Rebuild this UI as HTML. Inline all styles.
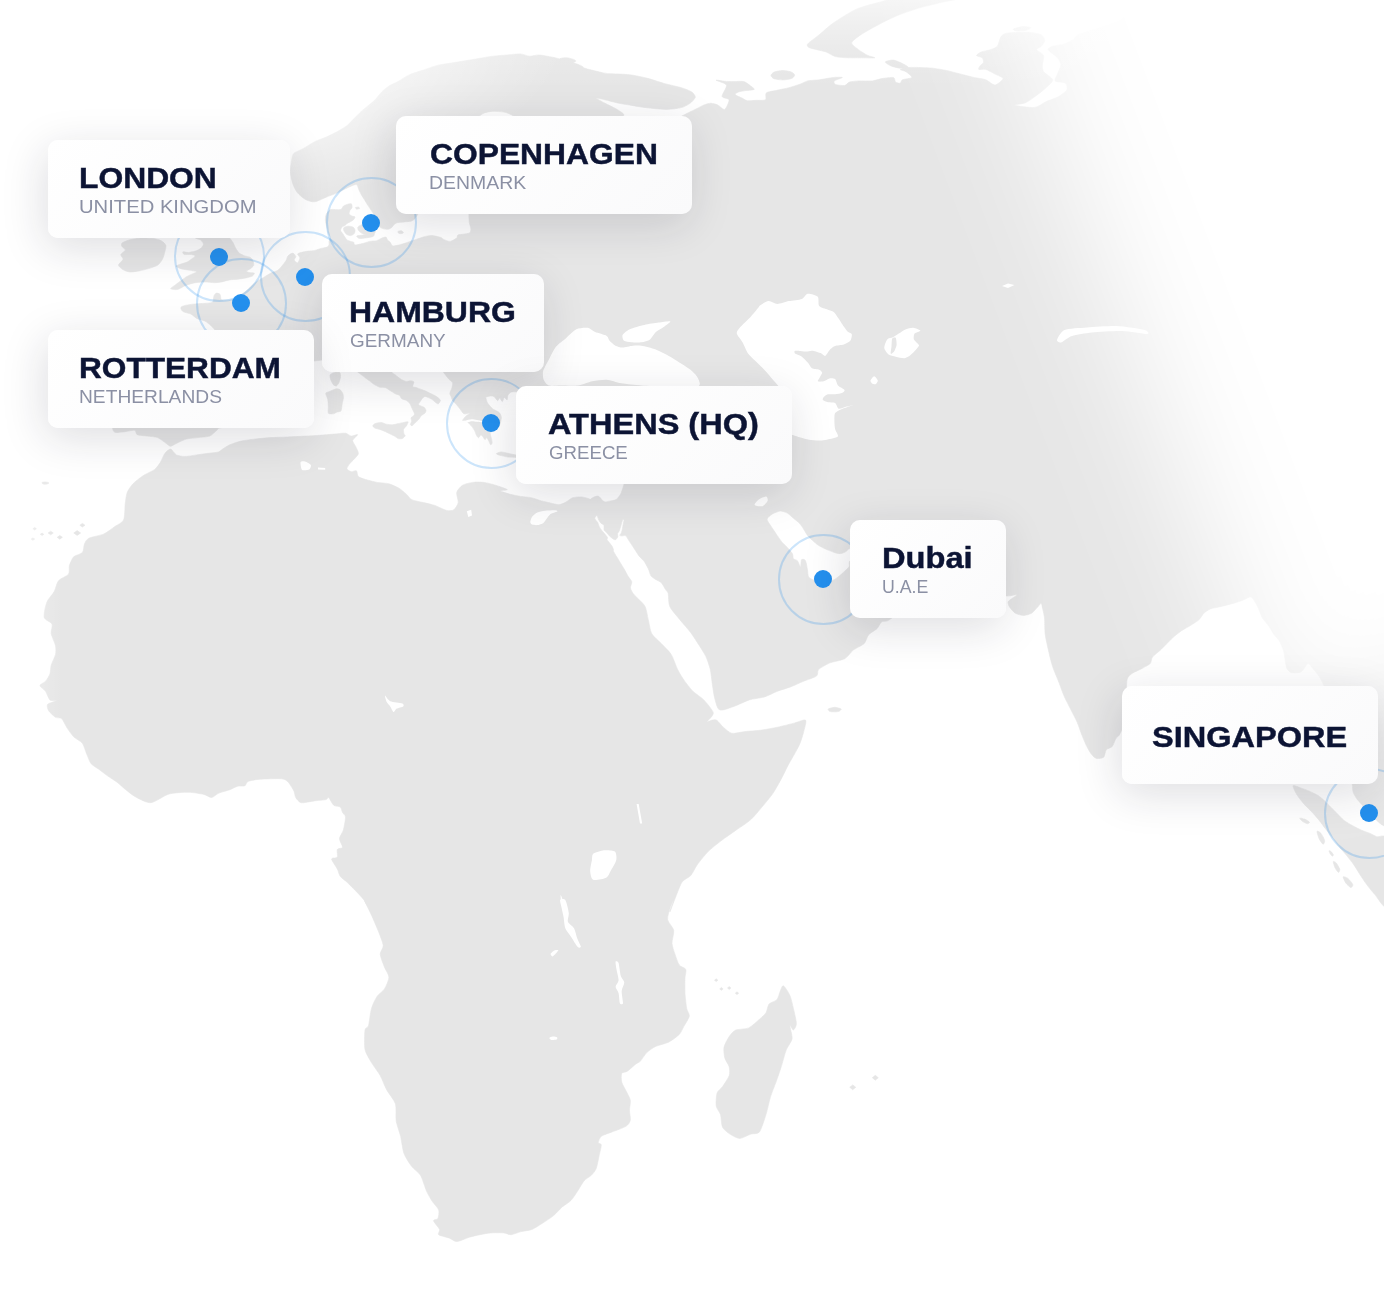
<!DOCTYPE html>
<html><head><meta charset="utf-8">
<style>
html,body{margin:0;padding:0;background:#fff;}
body{width:1384px;height:1292px;overflow:hidden;}
#wrap{width:1384px;height:1292px;position:relative;overflow:hidden;background:#fff;font-family:"Liberation Sans",sans-serif;}
#map{position:absolute;left:0;top:0;}
.fade{position:absolute;left:0;top:0;width:1384px;height:1292px;pointer-events:none;}
#fr{left:1283px;top:-1249px;width:1400px;height:2000px;background:#fff;transform-origin:0 100%;transform:rotate(-20.8deg);filter:blur(60px);}
#ft{background:linear-gradient(to bottom,rgba(255,255,255,.62) 0,rgba(255,255,255,.38) 25px,rgba(255,255,255,.14) 55px,rgba(255,255,255,0) 88px);}
#fl{background:linear-gradient(to right,rgba(255,255,255,1) 0,rgba(255,255,255,.55) 18px,rgba(255,255,255,.18) 40px,rgba(255,255,255,0) 62px);}
#ftl{background:radial-gradient(ellipse 420px 190px at 150px 25px,rgba(255,255,255,.95) 0,rgba(255,255,255,.8) 40%,rgba(255,255,255,.5) 68%,rgba(255,255,255,.2) 86%,rgba(255,255,255,0) 100%);}
.ring{position:absolute;width:91px;height:91px;border:2px solid rgba(36,144,238,.23);border-radius:50%;box-sizing:border-box;}
.dot{position:absolute;width:18px;height:18px;border-radius:50%;background:#2490ee;}
.card{position:absolute;height:97.5px;background:linear-gradient(135deg,#ffffff 0%,#fafafb 100%);border-radius:10px;box-shadow:-3px 10px 44px rgba(25,25,45,.145);}
.t{-webkit-text-stroke:.45px #0c1434;position:absolute;left:0;top:0;white-space:nowrap;font-weight:700;color:#0c1434;font-size:30px;line-height:30px;transform-origin:0 0;display:inline-block;}
.s{position:absolute;left:0;top:0;white-space:nowrap;font-weight:400;color:#8b90a4;font-size:19.5px;line-height:20px;transform-origin:0 0;display:inline-block;}
</style></head><body><div id="wrap">
<svg id="map" width="1384" height="1292" viewBox="0 0 1384 1292">
<path d="M170.6 449.1C172.0 449.3 174.6 454.0 176.4 454.9C178.2 455.8 182.5 456.4 185 456.4C187.5 456.4 193.9 455.3 196.6 454.9C199.3 454.5 204.0 453.9 206.7 453.5C209.4 453.1 216.3 452.6 218.3 452C220.3 451.4 221.2 450.0 222.6 449.1C224.0 448.2 227.5 445.8 229.8 444.8C232.2 443.8 238.2 441.7 241.4 441C244.7 440.3 252.2 439.4 255.8 439C259.4 438.6 266.3 437.9 270.3 437.6C274.3 437.4 283.3 437.2 287.6 437C291.9 436.8 301.0 436.3 305 436.1C309.0 435.9 315.8 435.6 319.4 435.3C323.0 435.1 330.6 434.4 333.9 434.1C337.1 433.8 343.2 432.9 345.4 433.2C347.6 433.4 349.7 435.9 351.2 436.1C352.7 436.3 357.4 434.1 357.6 434.7C357.8 435.2 353.0 439.1 352.7 440.5C352.4 441.9 354.8 444.6 355.5 446.2C356.2 447.8 358.6 451.9 358.4 453.5C358.2 455.1 355.2 457.9 354.1 459.2C353.0 460.5 350.7 462.4 349.8 463.6C348.9 464.8 346.7 467.8 346.9 468.8C347.1 469.8 350.0 471.4 351.2 471.7C352.4 471.9 355.5 470.2 356.4 470.8C357.3 471.4 357.2 475.5 358.4 476.6C359.6 477.7 363.3 478.8 365.7 479.5C368.1 480.2 374.3 481.9 377.2 482.4C380.1 482.9 386.1 483.1 388.8 483.8C391.5 484.5 396.7 486.9 398.9 488.2C401.1 489.5 404.5 492.5 406.1 493.9C407.7 495.3 409.7 498.6 411.9 499.7C414.1 500.8 420.6 501.9 423.5 502.6C426.4 503.3 432.1 504.5 435 505.5C437.9 506.5 444.2 509.9 446.6 510.4C449.0 510.9 452.4 510.8 453.8 509.8C455.2 508.8 457.8 504.8 458.2 502.6C458.6 500.4 456.2 494.7 456.7 492.5C457.2 490.3 460.5 486.6 462.5 485.3C464.5 484.0 469.9 482.8 472.6 482.4C475.3 482.0 481.3 482.0 484.2 482.4C487.1 482.8 492.8 484.4 495.7 485.3C498.6 486.2 506.8 488.9 507.3 489.6C507.8 490.3 499.6 490.2 500 490.8C500.4 491.4 507.8 493.6 510.4 494.3C513.0 495.0 518.2 496.0 520.8 496.4C523.4 496.8 528.6 497.1 531.2 497.7C533.8 498.3 539.2 500.2 541.6 500.9C544.0 501.5 548.1 502.4 550.3 502.9C552.5 503.4 557.0 504.8 559 504.7C561.0 504.6 564.2 503.0 565.9 502.1C567.6 501.2 570.8 498.4 572.8 497.7C574.8 497.0 579.5 496.8 581.5 496.9C583.5 497.0 586.9 498.1 588.4 498.6C589.9 499.1 592.1 500.8 593.6 501.2C595.1 501.6 599.3 502.0 600.6 502.1C601.9 502.2 604.3 500.5 604 501.7C603.7 502.9 598.9 509.8 598 511.5C597.1 513.2 597.1 514.3 596.7 515.2C596.3 516.1 594.7 517.5 594.8 518.4C594.9 519.3 597.0 521.3 597.6 522.3C598.2 523.3 598.8 525.7 599.3 526.7C599.8 527.7 601.2 529.7 601.9 530.6C602.5 531.5 603.8 532.7 604.5 533.6C605.2 534.5 607.2 536.7 607.5 537.5C607.8 538.3 606.8 539.0 607.1 539.7C607.4 540.4 609.1 542.2 609.7 543.1C610.4 544.0 611.8 545.7 612.3 546.6C612.8 547.5 613.4 549.4 613.6 550C613.8 550.6 613.0 550.2 613.6 551.5C614.2 552.8 617.5 558.0 618.8 560.2C620.1 562.4 622.8 566.8 624 568.8C625.2 570.8 627.3 575.0 628.3 576.6C629.3 578.2 631.5 580.4 631.8 581.8C632.1 583.2 630.2 586.4 630.4 587.9C630.6 589.4 632.5 592.6 633.5 594C634.5 595.4 637.2 597.6 638.7 599.2C640.2 600.8 644.0 604.1 645.2 606.7C646.4 609.3 647.5 616.3 648.3 619.7C649.1 623.1 650.1 630.6 651.7 633.6C653.3 636.6 658.9 641.0 661.3 643.6C663.7 646.2 669.2 651.1 671.2 654.4C673.2 657.6 676.1 666.4 677.7 669.6C679.3 672.9 682.3 677.7 684.2 680.4C686.1 683.1 690.5 688.8 692.9 691.2C695.3 693.6 701.2 697.2 703.8 699.9C706.3 702.6 712.9 710.2 713.3 712.9C713.7 715.6 707.4 720.7 707.2 721.6C707.0 722.5 710.4 720.5 711.6 720.3C712.8 720.1 715.3 719.4 716.8 720.3C718.3 721.2 721.4 725.6 723.3 727.2C725.2 728.8 729.2 732.8 731.9 733.3C734.6 733.8 741.4 732.0 744.9 731.6C748.4 731.2 756.0 730.8 760.1 730.3C764.2 729.8 773.2 728.1 777.5 727.2C781.8 726.3 791.3 723.8 794.8 722.9C798.3 722.0 804.5 719.1 805.6 720.3C806.7 721.5 804.3 729.3 803.5 732.4C802.7 735.5 801.0 741.3 799.1 745.4C797.2 749.5 790.5 760.8 788.3 764.9C786.1 769.0 783.7 774.4 781.8 777.9C779.9 781.4 775.3 789.8 773.1 793.1C770.9 796.4 767.2 800.8 764.5 804C761.8 807.2 754.9 815.9 751.4 819.1C747.9 822.4 740.1 827.3 736.3 830C732.5 832.7 724.6 838.1 721.1 840.8C717.6 843.5 711.1 848.6 708.1 851.6C705.1 854.6 699.5 861.7 697.3 864.7C695.1 867.7 692.7 873.3 690.8 875.5C688.9 877.7 684.0 879.3 682.1 882C680.2 884.7 677.1 893.5 675.6 897.2C674.1 900.9 670.1 911.5 669.9 911.9C669.7 912.2 673.6 900.7 673.7 900C673.8 899.3 671.5 904.1 670.7 906.5C669.9 908.9 667.2 916.5 667.6 919.5C668.0 922.5 673.2 927.3 673.7 930.3C674.2 933.3 671.8 940.4 672 943.4C672.2 946.4 674.1 951.5 675 954.2C675.9 956.9 677.9 963.1 679.3 965C680.6 966.9 685.1 967.8 685.8 969.4C686.5 971.0 685.1 975.0 685 978C684.9 981.0 684.8 989.4 685 993.2C685.2 997.0 686.2 1005.5 686.7 1008.4C687.2 1011.3 689.7 1013.9 689.3 1016.2C688.9 1018.5 685.0 1024.3 683.7 1026.6C682.5 1028.9 681.2 1032.5 679.3 1034.4C677.4 1036.4 671.5 1040.7 668.5 1042.2C665.5 1043.7 658.2 1045.2 655.5 1046.5C652.8 1047.8 648.7 1050.8 646.8 1052.6C644.9 1054.4 641.6 1059.9 640.3 1061.3C638.9 1062.7 637.6 1062.7 636 1063.9C634.4 1065.1 629.1 1070.0 627.3 1071.2C625.5 1072.4 622.4 1072.0 621.7 1073.4C621.0 1074.8 621.2 1079.9 621.7 1082.1C622.2 1084.3 624.9 1088.5 626 1090.8C627.1 1093.1 629.9 1097.9 630.3 1100.3C630.7 1102.7 629.5 1107.8 629.5 1110.3C629.5 1112.8 630.7 1118.2 630.3 1120.2C629.9 1122.2 628.3 1124.8 626 1126.3C623.7 1127.8 615.2 1130.7 612.1 1131.9C609.0 1133.2 603.0 1134.9 601.3 1136.3C599.6 1137.7 598.3 1141.7 598.3 1142.8C598.3 1143.9 601.2 1143.3 601.3 1144.9C601.4 1146.5 599.8 1152.8 599.1 1155.8C598.5 1158.8 597.1 1166.4 596.1 1168.8C595.1 1171.2 592.8 1173.8 591.3 1175.3C589.8 1176.8 585.7 1178.9 584 1180.9C582.3 1182.9 579.1 1188.9 577.5 1191.3C575.9 1193.7 572.9 1198.5 571 1200.4C569.1 1202.4 564.5 1205.0 562.3 1206.9C560.1 1208.8 556.0 1213.6 553.6 1215.6C551.2 1217.6 545.5 1221.3 542.8 1223C540.1 1224.7 534.6 1228.4 531.9 1229.5C529.2 1230.6 523.7 1230.9 521.1 1231.6C518.5 1232.2 513.3 1234.5 511.1 1234.7C508.9 1234.9 506.3 1233.1 503.8 1232.9C501.3 1232.7 493.8 1232.7 490.8 1232.9C487.8 1233.1 482.6 1234.2 479.9 1234.7C477.2 1235.2 472.0 1236.4 469.1 1237.3C466.2 1238.2 459.3 1241.5 456.9 1241.6C454.5 1241.7 451.9 1239.1 449.6 1238.2C447.3 1237.3 439.9 1235.8 438.7 1234.7C437.4 1233.6 440.2 1231.2 439.6 1229.5C439.0 1227.8 433.7 1222.2 433.5 1220.8C433.3 1219.4 437.2 1219.9 437.9 1218.6C438.5 1217.2 439.4 1212.2 438.7 1210C438.0 1207.8 433.7 1203.6 432.2 1201.3C430.7 1199.0 428.1 1194.5 426.6 1191.3C425.1 1188.0 422.4 1178.4 420.5 1175.3C418.6 1172.2 413.9 1169.3 411.8 1166.6C409.7 1163.9 405.4 1157.4 404 1153.6C402.6 1149.8 401.6 1140.4 400.6 1136.3C399.6 1132.2 396.9 1125.2 396.2 1121.1C395.5 1117.0 396.6 1107.7 395.4 1103.8C394.2 1099.9 388.6 1093.4 386.7 1089.9C384.8 1086.4 382.1 1079.0 380.2 1075.6C378.3 1072.2 373.4 1065.8 371.5 1062.6C369.6 1059.3 365.8 1053.7 365 1049.6C364.2 1045.5 364.6 1033.1 365 1030.1C365.4 1027.1 367.7 1028.4 368.5 1025.7C369.3 1023.0 370.4 1012.1 371.5 1008.4C372.6 1004.7 375.6 998.6 377.2 996.2C378.8 993.8 383.0 991.3 384.5 988.9C386.0 986.5 388.9 979.9 388.9 977.2C388.9 974.5 385.6 970.1 384.5 967.2C383.4 964.3 380.4 956.9 380.2 954.2C380.0 951.5 383.5 948.5 383.2 945.5C382.9 942.5 379.5 934.1 378 930.3C376.5 926.5 373.2 919.0 371.5 915.2C369.8 911.4 364.3 900.4 364.2 900C364.1 899.6 370.7 911.9 370.7 911.9C370.7 911.9 366.1 902.9 364.2 900.2C362.3 897.6 357.7 893.0 355.5 890.7C353.3 888.4 348.7 883.8 346.8 882C344.9 880.2 341.5 878.0 340.3 876.4C339.1 874.8 338.4 871.2 337.3 869C336.2 866.8 331.6 860.5 331.6 859C331.6 857.5 336.6 858.5 337.3 857.3C338.0 856.1 336.7 850.8 337.3 849.5C337.9 848.2 342.2 848.7 342.5 847.3C342.8 845.9 339.4 840.8 339.5 838.6C339.6 836.4 342.6 832.7 343.4 830C344.1 827.3 345.6 819.2 345.5 817C345.4 814.8 343.1 813.9 342.5 812.6C341.9 811.4 341.4 807.9 340.3 807C339.2 806.1 335.3 806.5 333.8 805.3C332.3 804.1 329.6 798.2 328.6 797.5C327.6 796.8 327.8 799.2 326 799.6C324.2 800.0 317.4 800.5 314.3 800.9C311.2 801.3 303.6 803.1 301.3 802.7C299.0 802.3 296.6 799.0 295.7 797.5C294.8 796.0 294.8 792.9 293.9 791C293.0 789.1 289.8 783.8 288.3 782.3C286.8 780.8 285.3 779.2 281.8 778.8C278.3 778.4 264.3 778.9 260.1 779.2C255.9 779.5 249.9 780.6 248 781.4C246.1 782.2 246.2 785.2 244.9 785.8C243.6 786.4 239.5 785.7 237.6 786.2C235.7 786.7 232.1 788.8 229.8 789.7C227.5 790.6 221.2 792.1 218.9 793.1C216.6 794.1 213.5 797.3 211.6 797.5C209.7 797.7 206.7 795.0 203.8 794.4C200.9 793.8 192.9 792.3 188.6 792.3C184.3 792.2 173.8 792.7 169.1 794C164.4 795.3 155.0 802.3 150.9 802.7C146.8 803.1 139.8 799.1 136.6 797.5C133.4 795.9 128.1 791.6 125.7 789.7C123.3 787.8 119.4 784.0 117.1 782.3C114.8 780.6 109.8 777.4 107.5 775.8C105.2 774.2 100.9 770.8 98.8 769.3C96.7 767.8 92.5 765.5 91 763.6C89.5 761.7 87.8 756.6 86.7 754.1C85.6 751.6 84.0 745.5 82.4 743.3C80.8 741.1 75.6 738.7 73.7 736.8C71.8 734.9 68.7 730.4 67.2 728.1C65.7 725.8 63.1 720.0 61.6 718.6C60.1 717.2 57.1 718.3 55.5 717.3C53.9 716.3 49.6 712.4 48.6 710.8C47.6 709.2 46.7 705.5 47.7 704.2C48.7 703.0 56.1 701.3 56.4 700.8C56.7 700.3 51.3 701.1 49.9 699.9C48.5 698.7 46.8 693.0 45.5 691.2C44.2 689.4 39.9 686.8 39.9 685.6C39.9 684.4 44.2 682.8 45.5 681.3C46.8 679.8 49.2 675.9 49.9 673.9C50.6 671.9 50.5 667.6 51.2 665.2C51.9 662.8 55.0 656.8 55.5 654.4C56.0 652.0 56.0 648.3 55.5 645.7C55.0 643.1 51.6 636.3 51.2 633.6C50.8 630.9 52.9 626.0 52 624C51.1 622.0 44.9 620.2 44.2 617.5C43.6 614.8 45.5 605.6 46.8 602.4C48.0 599.1 52.7 594.2 54.2 591.5C55.7 588.8 56.7 582.9 58.5 580.7C60.3 578.5 67.1 576.1 68.5 574.2C69.9 572.3 68.8 567.7 69.4 565.5C70.1 563.3 72.1 558.4 73.7 556.8C75.3 555.2 81.1 554.1 82.4 552.5C83.8 550.9 83.7 545.6 84.5 543.8C85.3 542.0 86.5 539.4 88.9 538.2C91.3 537.0 100.8 535.4 104 533.9C107.2 532.4 112.5 528.2 114.9 526.5C117.4 524.8 122.3 522.8 123.6 520C124.9 517.2 124.8 507.4 125.2 504C125.7 500.6 126.2 495.0 127.2 492.5C128.2 490.0 131.0 485.9 133 483.8C135.0 481.7 140.4 477.5 143.1 475.7C145.8 473.9 152.5 471.1 154.7 469.4C156.9 467.7 159.2 464.1 160.5 462.1C161.8 460.1 163.5 455.1 164.8 453.5C166.1 451.9 169.2 448.9 170.6 449.1ZM783.4 985.8C784.6 986.3 788.6 992.6 789.9 995.4C791.1 998.2 792.6 1004.9 793.4 1008.4C794.2 1011.9 796.4 1020.9 796.4 1023.6C796.4 1026.3 794.2 1029.8 793.4 1030.1C792.6 1030.4 790.1 1024.6 789.9 1025.7C789.7 1026.8 792.5 1035.7 792.1 1038.7C791.7 1041.7 787.8 1046.1 786.4 1049.6C785.0 1053.1 782.5 1062.8 781.2 1066.9C779.9 1071.0 777.4 1078.3 776 1082.1C774.6 1085.9 771.6 1093.2 770.4 1097.3C769.1 1101.4 767.4 1110.3 766 1114.6C764.6 1118.9 761.4 1129.5 759.5 1131.9C757.6 1134.3 753.3 1133.3 750.9 1134.1C748.5 1134.9 742.4 1138.3 740 1138.4C737.6 1138.5 733.6 1136.3 731.4 1135C729.2 1133.7 724.1 1130.1 722.7 1127.6C721.3 1125.0 721.3 1117.3 720.5 1114.6C719.7 1111.9 716.6 1108.6 716.2 1105.9C715.8 1103.2 716.3 1095.3 717.1 1092.9C717.9 1090.5 721.2 1088.6 722.7 1086.4C724.2 1084.2 728.4 1078.0 729.2 1075.6C730.0 1073.2 729.7 1069.1 729.2 1066.9C728.7 1064.7 725.5 1060.6 724.9 1058.2C724.2 1055.8 723.5 1050.1 724 1047.4C724.5 1044.7 727.7 1038.8 729.2 1036.6C730.7 1034.4 733.3 1031.2 735.7 1030.1C738.1 1029.0 745.7 1029.3 748.7 1027.9C751.7 1026.5 757.3 1021.1 759.5 1019.2C761.7 1017.3 764.8 1014.6 766 1012.7C767.2 1010.8 767.7 1005.6 769.1 1004C770.5 1002.4 775.5 1001.3 776.9 999.7C778.3 998.1 779.5 992.7 780.3 991C781.1 989.3 782.2 985.2 783.4 985.8ZM604 501.7C605.4 502.3 607.7 501.5 609.2 501.2C610.7 500.9 614.8 500.4 616.2 499.5C617.6 498.6 619.6 495.8 620.5 494.3C621.4 492.8 622.7 488.7 623.1 487.3C623.5 485.9 623.9 485.2 624 483C624.1 480.8 623.8 473.9 624 470C624.2 466.1 626.2 455.8 626 452C625.8 448.2 624.0 440.8 622 440C620.0 439.2 613.2 444.8 610 446C606.8 447.2 599.8 450.1 596 450C592.2 449.9 583.8 445.4 580 445C576.2 444.6 569.0 447.6 566 447C563.0 446.4 559.2 440.4 556 440C552.8 439.6 543.2 444.5 540 444C536.8 443.5 532.0 439.0 530 436C528.0 433.0 524.4 424.0 524 420C523.6 416.0 527.0 407.2 527 404C527.0 400.8 525.4 395.5 524 394C522.6 392.5 517.6 392.0 516 391.8C514.4 391.6 511.8 391.8 510.8 392.2C509.8 392.6 508.5 394.2 508 395.1C507.5 396.1 507.6 399.5 507.1 399.8C506.6 400.1 504.9 397.2 504.3 397.4C503.7 397.6 503.0 401.5 502.4 401.6C501.8 401.7 500.2 398.0 499.6 397.9C499.0 397.8 498.4 400.9 497.7 400.7C497.0 400.5 494.8 397.1 493.9 396.5C493.0 395.9 491.1 395.9 490.2 396C489.3 396.1 486.9 396.7 486.4 396.9C485.9 397.1 485.8 397.2 485.9 397.9C486.0 398.6 486.9 401.6 487.4 402.6C487.9 403.7 489.5 405.5 490.2 406.3C490.9 407.1 492.2 408.5 493 409.1C493.8 409.7 495.9 410.5 496.7 411C497.5 411.5 499.0 412.1 499.6 412.9C500.2 413.7 501.4 416.1 501.4 417.6C501.4 419.1 500.3 424.4 499.6 425.1C498.9 425.8 496.6 423.2 495.8 423.2C495.0 423.2 493.2 424.2 493 425.1C492.8 426.1 494.2 429.9 493.9 430.8C493.5 431.7 490.5 431.6 490.2 432.6C489.9 433.7 491.4 437.9 491.6 439.2C491.8 440.5 492.2 442.3 492.1 443C492.0 443.7 491.1 445.2 490.6 444.8C490.1 444.4 488.8 441.0 488.3 440.1C487.8 439.2 486.8 437.9 486.4 437.8C486.0 437.8 485.5 439.9 485 439.7C484.5 439.5 483.2 437.0 482.7 436.4C482.2 435.8 481.3 434.8 480.8 435C480.3 435.2 479.0 437.9 478.4 437.8C477.8 437.7 476.6 435.4 476.1 434.5C475.6 433.6 475.2 431.7 474.7 430.8C474.2 429.9 472.9 427.8 472.3 427C471.7 426.2 470.8 425.4 470 424.6C469.2 423.8 466.7 420.9 465.8 420.4C464.9 419.9 462.5 420.9 462.5 420.4C462.5 419.9 464.9 417.1 465.8 416.2C466.7 415.3 469.7 413.7 469.5 413.4C469.3 413.1 465.1 414.3 463.9 413.8C462.7 413.3 461.0 410.3 460.1 409.1C459.2 407.9 457.3 405.6 456.4 404.5C455.5 403.4 453.2 401.6 452.6 400.7C452.0 399.8 451.6 397.8 451.2 396.9C450.8 396.0 449.7 394.2 449.8 393.2C449.9 392.1 451.3 389.8 451.7 388.5C452.1 387.2 453.0 384.0 452.6 382.8C452.2 381.6 449.9 380.4 448.8 379.1C447.7 377.8 445.3 374.9 443.7 372.5C442.1 370.1 438.3 362.8 436 360C433.7 357.2 428.0 352.5 425 350C422.0 347.5 414.6 341.8 412 340C409.4 338.2 406.0 336.0 404 336C402.0 336.0 397.5 338.0 396 340C394.5 342.0 392.2 349.0 392 352C391.8 355.0 394.0 361.5 394 364C394.0 366.5 391.8 370.8 391.9 372.1C392.0 373.4 394.0 373.9 394.8 374.5C395.6 375.1 397.4 376.7 398.3 377.3C399.2 377.9 400.7 379.2 401.7 379.7C402.7 380.2 405.2 381.3 406.4 381.4C407.6 381.5 410.1 380.7 411 380.8C411.9 380.9 413.7 381.3 413.9 382C414.1 382.7 412.3 385.9 412.7 386.6C413.1 387.3 415.7 387.3 416.8 387.7C417.9 388.1 420.2 389.1 421.4 389.5C422.5 389.9 424.9 390.7 426 391.2C427.1 391.7 429.4 392.9 430.6 393.5C431.8 394.1 434.3 395.2 435.3 395.8C436.3 396.4 438.1 397.6 438.7 398.2C439.3 398.8 440.6 399.8 440.5 400.5C440.4 401.2 438.8 403.7 438.2 403.9C437.6 404.1 436.1 402.8 435.3 402.2C434.5 401.6 432.7 399.9 431.8 399.3C430.9 398.7 429.2 398.0 428.3 397.6C427.4 397.2 425.6 396.3 424.9 396.4C424.2 396.5 423.1 397.5 422.5 398.2C421.9 398.9 420.7 400.8 420.2 401.6C419.7 402.4 418.4 403.9 418.5 404.5C418.6 405.1 420.7 405.8 421.4 406.2C422.1 406.6 423.7 406.9 424.3 407.4C424.9 407.9 425.9 409.6 426 410.3C426.1 411.0 425.5 412.6 424.9 413.2C424.3 413.8 422.1 414.8 421.4 415.5C420.7 416.2 419.7 418.3 419.1 419C418.5 419.7 417.4 420.7 416.8 421.3C416.2 421.9 415.1 423.1 414.5 423.6C413.9 424.2 412.6 425.6 412.1 425.7C411.6 425.8 410.5 425.2 410.4 424.7C410.3 424.1 411.5 422.2 411.6 421.3C411.7 420.4 410.9 418.4 411 417.8C411.1 417.2 412.3 417.0 412.7 416.6C413.1 416.2 414.4 415.0 414.5 414.3C414.6 413.6 413.7 411.8 413.3 410.9C412.9 410.0 412.0 408.3 411.6 407.4C411.2 406.5 410.5 404.3 409.8 403.4C409.1 402.5 407.4 401.1 406.4 400.5C405.4 399.9 402.6 399.3 401.7 398.7C400.8 398.1 400.3 395.9 399.4 395.3C398.5 394.7 395.9 394.1 394.8 393.5C393.7 392.9 391.4 391.3 390.2 390.6C389.0 389.9 386.8 388.1 385.5 387.7C384.2 387.3 381.2 387.6 379.8 387.2C378.4 386.8 375.3 385.1 374 384.3C372.7 383.5 370.6 381.7 369.4 380.8C368.2 379.9 366.1 378.4 364.7 377.3C363.2 376.2 359.6 373.5 357.8 372.1C356.0 370.7 352.2 367.5 350 366C347.8 364.5 342.5 361.0 340 360C337.5 359.0 332.2 358.0 330 358C327.8 358.0 324.0 359.6 322 360C320.0 360.4 316.8 360.8 314 361C311.2 361.2 303.5 360.9 300 362C296.5 363.1 289.5 368.0 286 370C282.5 372.0 275.0 375.5 272 378C269.0 380.5 264.5 387.2 262 390C259.5 392.8 254.0 397.2 252 400C250.0 402.8 247.5 409.0 246 412C244.5 415.0 243.3 422.0 240 424C236.7 426.0 222.6 427.2 219.7 428C216.8 428.8 218.1 429.3 216.8 430.3C215.5 431.3 211.9 435.2 209.6 436.1C207.2 437.0 200.9 437.2 198 437.6C195.1 438.0 189.2 438.3 186.5 439C183.8 439.7 178.4 442.5 176.4 443.4C174.4 444.3 171.9 446.2 170.6 446.2C169.3 446.2 167.8 444.5 166.2 443.4C164.6 442.3 159.9 438.5 157.6 437.6C155.3 436.7 150.0 436.5 147.5 436.1C145.0 435.7 138.9 435.4 137.3 434.7C135.7 434.0 136.4 430.6 134.5 430.3C132.6 430.0 124.7 432.0 122 432C119.3 432.0 114.2 434.0 113 430C111.8 426.0 111.9 405.6 112 400C112.1 394.4 113.2 388.8 114 385C114.8 381.2 114.8 372.4 118 370C121.2 367.6 133.5 366.2 140 366C146.5 365.8 162.5 367.2 170 368C177.5 368.8 195.4 374.0 200 372C204.6 370.0 205.4 356.8 207 352C208.6 347.2 212.1 336.8 213 334C213.9 331.2 214.8 330.7 214.5 329.6C214.2 328.5 211.6 326.3 210.4 325.2C209.2 324.1 206.6 322.0 204.9 321.1C203.2 320.2 198.4 319.3 196.7 318.4C195.0 317.5 192.9 315.1 191.2 314.2C189.5 313.3 184.2 312.4 182.9 311.5C181.6 310.6 180.6 308.2 180.9 307.4C181.2 306.6 183.9 305.7 185.7 305.3C187.5 304.9 192.9 304.1 195.3 303.9C197.7 303.6 202.8 303.5 204.9 303.3C207.1 303.1 211.4 303.1 212.5 302.2C213.6 301.3 213.4 297.5 213.8 296.4C214.2 295.3 215.1 293.5 215.9 293.2C216.7 292.9 219.3 293.5 220 294.3C220.7 295.1 220.5 299.1 221.4 299.8C222.3 300.5 225.5 300.2 226.9 300.2C228.3 300.1 231.0 299.8 232.4 299.4C233.8 299.0 236.2 297.7 237.9 296.7C239.6 295.7 244.4 292.6 246.1 291.2C247.8 289.8 250.2 286.9 251.6 285.7C253.0 284.5 255.6 282.4 257.1 281.3C258.6 280.2 262.2 278.2 263.9 277.2C265.6 276.2 269.1 274.0 270.8 273.1C272.5 272.2 276.3 271.2 277.7 270.3C279.1 269.4 280.8 267.4 281.8 266.2C282.8 265.0 285.1 262.0 285.9 260.7C286.7 259.4 287.1 256.9 288 255.9C288.9 255.0 291.8 253.0 292.8 253.1C293.8 253.2 295.6 255.7 295.8 256.6C296.0 257.5 294.0 259.2 294.2 260C294.4 260.8 296.9 263.1 297.6 262.8C298.3 262.5 299.9 259.0 299.9 257.9C299.9 256.8 297.5 254.8 297.6 254.1C297.7 253.4 299.7 252.9 301 252.5C302.3 252.1 306.2 251.4 307.9 251.1C309.6 250.8 313.0 250.8 314.7 250.4C316.4 250.1 319.9 248.7 321.6 248.3C323.3 247.9 328.0 246.9 328.5 247C329.0 247.1 325.3 249.7 325.4 249.4C325.5 249.2 328.6 246.0 329 245C329.4 244.0 328.8 242.3 329 241.4C329.2 240.5 330.6 238.8 330.5 237.8C330.4 236.8 328.8 234.8 328.3 233.5C327.8 232.2 327.2 228.6 326.8 227C326.4 225.4 325.5 222.0 325.4 220.5C325.3 219.0 325.5 216.1 326.1 214.7C326.7 213.3 328.7 210.2 330.5 209.6C332.3 209.0 339.0 210.0 340.6 209.6C342.2 209.2 342.6 206.7 343.5 206C344.4 205.3 346.8 204.5 347.8 204.2C348.8 203.9 350.9 203.4 351.4 203.8C351.9 204.2 352.3 206.7 352.1 207.5C351.9 208.3 350.4 209.5 350 210.3C349.6 211.1 348.9 213.3 349.2 214C349.5 214.7 351.4 215.8 352.1 216.1C352.8 216.4 354.8 216.4 355 216.8C355.2 217.2 354.2 219.1 353.6 219.7C353.0 220.3 350.8 221.4 350 221.9C349.2 222.4 347.7 223.0 347.1 223.4C346.5 223.8 345.5 225.1 344.9 225.5C344.3 225.9 342.5 226.4 342 227C341.5 227.6 340.5 229.8 340.6 230.6C340.7 231.4 342.2 232.7 342.7 233.5C343.2 234.3 344.3 236.3 344.9 237.1C345.4 237.9 346.4 239.5 347.1 240C347.8 240.5 349.9 241.1 350.7 241.4C351.5 241.7 353.1 241.7 353.6 242.1C354.1 242.5 353.9 244.8 355 245C356.1 245.2 360.5 244.0 362.3 243.6C364.1 243.2 367.7 241.8 369.5 241.4C371.3 241.0 375.1 241.1 376.7 240.7C378.3 240.2 381.3 238.2 382.5 237.8C383.7 237.4 385.5 236.8 386.1 237.1C386.7 237.4 387.0 239.4 387.5 240C388.0 240.6 389.3 241.4 390 242.1C390.7 242.8 391.5 245.6 392.8 245.9C394.1 246.2 398.7 245.1 400.6 244.6C402.6 244.1 406.4 242.7 408.4 242C410.3 241.3 414.2 240.1 416.2 239.4C418.1 238.8 422.1 237.3 424 236.8C425.9 236.3 429.7 235.4 431.8 235.5C433.9 235.6 439.5 237.0 441 237.5C442.5 238.0 442.5 238.9 443.6 239.4C444.7 239.9 448.5 241.6 450.1 241.4C451.7 241.2 455.6 238.9 456.6 238.1C457.6 237.3 457.1 235.4 457.9 234.9C458.7 234.4 461.6 234.4 463.1 234.2C464.6 233.9 468.6 233.6 469.6 232.9C470.6 232.2 470.9 230.3 470.9 229C470.9 227.7 469.6 224.5 469.3 222.5C469.1 220.5 468.8 215.9 468.9 213.1C469.0 210.3 469.4 204.1 470 200C470.6 195.9 472.8 184.4 474 180C475.2 175.6 476.8 167.5 480 165C483.2 162.5 495.0 160.9 500 160C505.0 159.1 520.0 159.2 520 158C520.0 156.8 504.8 151.2 500 150C495.2 148.8 484.2 149.5 482 148C479.8 146.5 481.0 140.4 482 138C483.0 135.6 487.5 130.9 490 129C492.5 127.1 499.4 124.1 502 123C504.6 121.9 509.5 120.8 511 120C512.5 119.2 514.8 117.5 514 116.5C513.2 115.5 507.8 112.9 505 112.3C502.2 111.7 494.8 111.2 492 111.4C489.2 111.6 485.2 112.3 483 113.5C480.8 114.7 476.2 118.7 474 121C471.8 123.3 467.4 128.4 465 132C462.6 135.6 457.5 145.2 455 150C452.5 154.8 447.9 165.0 445 170C442.1 175.0 434.5 186.2 432 190C429.5 193.8 426.6 197.1 425 200C423.4 202.9 419.8 211.2 418.8 213.1C417.8 215.0 417.4 214.7 416.9 215.4C416.4 216.1 415.4 218.2 414.7 218.9C414.0 219.6 412.3 220.8 411 221.2C409.7 221.6 406.1 221.7 404.5 221.9C402.9 222.1 399.3 222.2 398 222.5C396.7 222.8 394.9 223.8 394.1 224.5C393.3 225.2 392.3 227.1 391.5 227.7C390.7 228.3 388.6 229.2 387.6 229.3C386.6 229.4 384.7 229.1 383.7 228.8C382.7 228.5 380.4 227.9 379.8 227.1C379.2 226.3 379.7 223.7 379.2 222.5C378.7 221.3 376.8 218.7 375.9 217.3C375.0 215.9 373.0 213.0 372 211.5C371.0 210.0 369.0 207.0 368.1 205.6C367.2 204.2 365.7 201.7 364.9 200.4C364.1 199.1 362.3 196.5 361.6 195.2C360.9 193.9 359.7 191.3 359 190C358.3 188.7 357.8 184.8 356.3 184.5C354.8 184.2 349.4 187.0 347.1 188C344.8 189.0 340.4 191.4 337.8 192.6C335.2 193.8 329.1 196.0 326.2 197.2C323.3 198.3 317.3 201.5 314.7 201.8C312.1 202.1 307.6 200.7 305.4 199.5C303.2 198.3 298.9 194.6 297.3 192.6C295.7 190.6 293.6 186.0 292.7 183.4C291.8 180.8 290.5 174.7 290.4 171.8C290.3 168.9 291.2 162.5 291.6 160.2C292.0 157.9 292.5 154.7 293.9 153.3C295.3 151.9 300.5 150.1 303.1 148.7C305.7 147.2 311.8 143.1 314.7 141.7C317.6 140.2 323.3 138.4 326.2 137.1C329.1 135.8 335.2 132.8 337.8 131.3C340.4 129.9 345.1 127.1 347.1 125.5C349.1 123.9 352.3 120.3 354 118.6C355.7 116.9 359.2 113.3 360.9 111.7C362.6 110.1 366.2 107.4 367.9 105.9C369.6 104.5 373.1 101.8 374.8 100.1C376.5 98.4 380.0 93.7 381.7 92C383.4 90.3 386.7 87.5 388.7 86.2C390.7 84.9 395.3 83.0 397.9 81.6C400.5 80.2 406.3 76.1 409.5 74.7C412.7 73.3 419.9 71.3 423.4 70.1C426.9 68.9 433.7 66.3 437.2 65.4C440.7 64.5 447.6 63.7 451.1 63.1C454.6 62.5 461.5 61.4 465 60.8C468.5 60.2 475.3 59.1 478.8 58.5C482.3 57.9 489.2 56.6 492.7 56.2C496.2 55.8 503.1 55.3 506.6 55C510.1 54.7 517.6 53.8 520.5 53.9C523.4 54.0 527.4 56.1 529.7 56.2C532.0 56.3 536.1 54.9 539 55C541.9 55.1 549.3 56.6 552.8 57.3C556.3 58.0 563.2 59.8 566.7 60.8C570.2 61.8 578.2 64.4 580.6 65.4C583.0 66.4 583.1 67.7 586 68.6C588.9 69.5 600.1 72.2 603.4 72.9C606.6 73.6 608.8 73.6 612 73.8C615.2 74.0 625.1 74.2 629.4 74.7C633.7 75.2 642.4 77.0 646.7 78.1C651.0 79.2 659.7 82.2 664 83.4C668.3 84.6 677.9 86.6 681.4 87.7C684.9 88.8 690.1 90.8 691.8 92C693.5 93.2 695.5 95.8 695.3 97.2C695.1 98.6 691.8 102.0 690.1 103.3C688.4 104.6 684.2 106.8 681.4 107.6C678.6 108.4 671.0 109.3 667.5 109.4C664.0 109.5 657.1 108.8 653.6 108.5C650.1 108.2 642.8 107.2 639.8 106.8C636.8 106.4 632.0 105.4 629.4 105C626.8 104.6 621.6 103.8 619 103.3C616.4 102.8 611.4 101.4 608.6 100.7C605.8 100.0 596.8 97.8 596.4 98.1C596.0 98.4 602.7 102.0 605.1 103.3C607.5 104.6 613.2 107.2 615.5 108.5C617.8 109.8 622.2 112.6 623.3 113.7C624.4 114.8 622.7 116.2 624.5 117.2C626.3 118.2 634.1 120.8 638 121.5C641.9 122.2 651.1 123.2 655.4 123.2C659.7 123.2 669.5 122.4 672.7 121.5C676.0 120.6 679.5 117.4 681.4 116.3C683.3 115.2 686.3 113.8 688.3 112.8C690.2 111.8 695.0 109.5 697 108.5C699.0 107.5 702.2 105.7 703.9 105C705.6 104.3 709.2 103.3 710.9 103.3C712.6 103.3 716.1 104.2 717.8 105C719.5 105.8 723.3 110.1 724.7 109.4C726.1 108.8 729.4 101.4 729.1 99.8C728.8 98.2 722.4 98.2 722.1 96.4C721.8 94.6 727.2 87.1 726.5 85.1C725.8 83.1 716.3 80.7 716.1 80.2C715.9 79.7 722.5 81.1 724.7 81.3C726.9 81.5 731.0 81.6 733.4 81.6C735.8 81.6 741.6 81.0 743.8 81.6C746.0 82.1 749.4 85.0 750.7 86C752.0 87.0 754.9 88.8 754.2 89.4C753.6 90.0 747.5 90.3 745.5 90.6C743.5 90.9 739.9 91.5 738.6 92C737.3 92.5 734.7 93.8 735.1 94.6C735.5 95.4 740.6 97.3 742.1 98.1C743.6 98.9 745.6 100.4 747.3 100.7C749.0 101.0 753.6 100.4 755.9 100.3C758.2 100.2 764.2 100.7 765.5 99.8C766.8 98.9 764.9 94.1 766.3 92.9C767.7 91.7 774.0 91.0 776.8 90.3C779.6 89.6 786.0 88.5 788.9 87.7C791.8 86.9 797.6 85.0 800 84.2C802.4 83.4 805.3 81.5 807.7 80.9C810.1 80.4 816.1 80.2 819.3 79.8C822.5 79.4 830.3 77.8 833.2 77.5C836.1 77.2 842.3 77.1 842.4 77.5C842.5 77.9 835.2 80.0 834.3 80.9C833.4 81.8 834.2 83.8 835.5 84.4C836.8 85.0 843.0 85.8 844.7 85.5C846.4 85.2 847.7 82.7 849.4 82.1C851.1 81.5 855.7 81.1 858.6 80.9C861.5 80.8 869.6 81.2 872.5 80.9C875.4 80.6 879.1 79.0 881.7 78.6C884.3 78.2 891.6 77.1 893.3 77.5C895.0 77.9 894.7 81.4 895.6 82.1C896.5 82.8 899.3 83.5 900.2 83.2C901.1 82.9 901.0 80.5 902.5 79.8C904.0 79.1 911.4 78.5 911.8 77.5C912.2 76.5 907.5 72.7 906 71.7C904.5 70.7 899.8 69.9 900.2 69.4C900.6 68.9 907.2 67.7 909.5 67.5C911.8 67.3 915.8 67.4 918.7 67.5C921.6 67.6 929.1 67.8 932.6 68.2C936.1 68.6 943.0 69.8 946.5 70.5C950.0 71.2 956.8 73.1 960.3 74C963.8 74.9 971.0 76.8 974.2 77.5C977.4 78.2 983.2 78.8 985.8 79.8C988.4 80.8 992.8 85.2 995 85.1C997.2 84.9 1003.1 80.0 1003.1 78.6C1003.1 77.2 997.2 75.2 995 74C992.8 72.8 987.8 70.0 985.8 69.4C983.8 68.8 979.5 69.8 978.8 69.4C978.1 69.0 979.4 66.8 980 65.9C980.6 65.0 983.2 63.4 983.5 62.4C983.8 61.4 983.2 58.7 982.3 57.8C981.4 56.9 976.6 56.2 976.5 55.5C976.4 54.8 979.5 52.7 981.2 52C982.9 51.3 988.4 50.4 990.4 49.7C992.4 49.0 996.0 47.8 997.3 46.2C998.6 44.6 999.8 38.6 1000.8 37C1001.8 35.4 1003.5 34.1 1005.4 33.5C1007.3 32.9 1012.8 32.5 1015.8 32.4C1018.8 32.3 1026.5 32.1 1029.7 32.4C1032.9 32.7 1039.4 33.7 1041.3 34.7C1043.2 35.7 1044.7 39.1 1044.7 40.5C1044.7 41.9 1042.3 45.1 1041.3 46.2C1040.3 47.4 1036.3 48.5 1036.6 49.7C1036.9 50.9 1042.9 53.6 1043.6 55.5C1044.3 57.4 1042.4 62.7 1042.4 64.7C1042.4 66.7 1042.3 69.8 1043.6 71.7C1044.9 73.6 1052.5 77.8 1052.8 79.8C1053.1 81.8 1048.2 85.7 1045.9 87.9C1043.6 90.1 1036.9 95.2 1034.3 97.1C1031.7 99.0 1027.5 101.9 1025.1 102.9C1022.6 103.9 1013.6 104.6 1014.7 105.2C1015.9 105.8 1030.4 107.9 1034.3 107.5C1038.2 107.1 1043.0 103.0 1045.9 101.7C1048.8 100.4 1054.9 98.5 1057.5 97.1C1060.1 95.7 1065.7 91.9 1066.7 90.2C1067.7 88.5 1067.0 84.4 1065.5 83.2C1064.0 82.0 1056.1 82.1 1055.1 80.9C1054.1 79.8 1056.8 76.0 1057.5 74C1058.2 72.0 1060.9 66.7 1060.9 64.7C1060.9 62.7 1059.1 59.7 1057.5 57.8C1055.9 55.9 1048.8 51.2 1048.2 49.7C1047.6 48.2 1050.8 46.9 1052.8 46.2C1054.8 45.5 1061.8 44.8 1064.4 43.9C1067.0 43.0 1071.9 40.4 1073.6 39.3C1075.3 38.1 1075.0 36.2 1078.3 34.7C1081.6 33.2 1094.8 29.5 1100 27.7C1105.2 25.9 1112.5 24.1 1120 20C1127.5 15.9 1125.0 -1.9 1160 -5C1195.0 -8.1 1370.0 -108.9 1400 -5C1430.0 98.9 1402.0 722.1 1400 826C1398.0 929.9 1387.2 826.8 1384 825.8C1380.8 824.8 1376.5 820.0 1374.5 818.2C1372.5 816.4 1369.6 813.5 1368 811.7C1366.4 810.0 1362.9 805.8 1361.5 804.2C1360.1 802.6 1357.7 800.2 1356.7 798.7C1355.7 797.2 1353.8 794.0 1353.2 792.2C1352.6 790.4 1352.6 788.0 1352.2 784C1351.8 780.0 1350.9 765.5 1350 760C1349.1 754.5 1346.5 745.6 1345 740C1343.5 734.4 1339.9 720.0 1338 715C1336.1 710.0 1331.7 703.6 1330 700C1328.3 696.4 1325.5 689.2 1324.2 686.3C1322.9 683.4 1320.7 678.8 1319.3 676.6C1317.9 674.4 1314.2 670.0 1312.8 668.4C1311.4 666.8 1309.3 663.2 1307.9 663.6C1306.5 664.0 1303.4 670.6 1301.4 671.7C1299.4 672.8 1293.5 673.1 1291.7 672.7C1289.9 672.3 1287.6 670.0 1286.8 668.4C1286.0 666.8 1285.6 662.5 1285.2 660.3C1284.8 658.1 1284.2 652.9 1283.5 650.5C1282.8 648.1 1280.5 642.8 1279.3 640.8C1278.1 638.8 1275.1 636.1 1273.8 634.3C1272.5 632.5 1270.3 628.2 1268.9 626.2C1267.5 624.2 1263.6 620.0 1262.4 618C1261.2 616.0 1259.9 611.7 1259.1 609.9C1258.3 608.1 1256.9 605.0 1255.9 603.4C1254.9 601.8 1252.6 597.3 1251 596.9C1249.4 596.5 1245.1 599.4 1242.9 600.2C1240.7 601.0 1235.9 602.6 1233.1 603.4C1230.2 604.2 1222.9 606.0 1220.1 606.7C1217.3 607.4 1212.4 608.1 1210.4 608.9C1208.4 609.7 1205.3 611.9 1203.9 613.2C1202.5 614.6 1200.6 618.2 1199 619.7C1197.4 621.2 1193.1 623.8 1190.9 625.2C1188.7 626.6 1183.3 629.5 1181.1 631C1178.9 632.5 1174.8 635.9 1173 637.5C1171.2 639.1 1168.1 642.4 1166.5 644C1164.9 645.6 1161.8 648.9 1160 650.5C1158.2 652.1 1153.7 655.5 1152.5 657.1C1151.3 658.7 1151.5 662.2 1150.2 663.6C1148.9 665.0 1144.3 667.2 1142.1 668.4C1139.9 669.6 1134.1 672.1 1132.3 673.3C1130.5 674.5 1128.2 676.6 1127.5 678.2C1126.8 679.8 1126.8 682.4 1126.5 686.3C1126.2 690.2 1125.7 704.0 1125.2 709.1C1124.7 714.2 1123.3 723.8 1122.6 727C1121.9 730.2 1120.1 733.7 1119.3 735.1C1118.5 736.5 1117.0 736.9 1116.1 738.3C1115.2 739.7 1113.4 745.1 1112.2 746.5C1111.0 747.9 1107.4 748.4 1106.3 749.7C1105.2 751.0 1104.9 756.1 1103.7 757.2C1102.5 758.3 1098.1 758.8 1096.6 758.5C1095.1 758.2 1092.9 756.1 1091.7 754.6C1090.5 753.1 1088.0 748.9 1086.8 746.5C1085.6 744.1 1083.1 738.1 1081.9 735.1C1080.7 732.1 1078.5 725.4 1077.1 722.1C1075.7 718.9 1072.2 712.4 1070.6 709.1C1069.0 705.9 1065.5 699.4 1064.1 696.1C1062.7 692.9 1060.6 686.8 1059.2 683.1C1057.8 679.4 1054.0 670.9 1052.7 666.8C1051.4 662.7 1049.4 654.6 1048.5 650.5C1047.6 646.4 1045.7 638.4 1045.2 634.3C1044.7 630.2 1044.8 621.0 1044.5 618C1044.2 615.0 1043.3 611.7 1042.9 609.9C1042.5 608.1 1041.9 603.8 1041.3 603.4C1040.7 603.0 1039.2 605.5 1038 606.7C1036.8 607.9 1033.3 612.1 1031.5 613.2C1029.7 614.3 1025.4 615.4 1023.4 615.4C1021.4 615.4 1017.0 614.3 1015.3 613.2C1013.5 612.1 1010.3 608.1 1009.4 606.7C1008.5 605.3 1007.8 602.8 1008.1 601.8C1008.4 600.8 1010.9 599.4 1012 598.5C1013.1 597.6 1017.6 594.9 1016.9 594.6C1016.2 594.3 1009.6 596.5 1006.2 595.9C1002.8 595.3 995.8 591.9 990 590C984.2 588.1 967.5 582.2 960 581C952.5 579.8 937.5 580.4 930 580C922.5 579.6 907.2 579.0 900 578C892.8 577.0 877.0 575.1 872 572C867.0 568.9 862.8 555.9 860 553C857.2 550.1 851.8 548.8 850 548.6C848.2 548.4 847.1 551.0 846 551.6C844.9 552.2 842.2 553.4 840.9 553.6C839.6 553.8 837.7 553.5 835.9 553C834.1 552.5 828.9 550.5 826.8 549.6C824.6 548.7 820.5 546.6 818.7 545.5C816.9 544.4 814.0 541.8 812.6 540.5C811.2 539.2 808.8 537.0 807.5 535.4C806.2 533.8 803.6 528.9 802.5 527.3C801.4 525.7 799.5 523.4 798.4 522.3C797.3 521.2 794.8 519.4 793.4 518.2C792.0 517.1 788.9 514.0 787.3 513.1C785.6 512.2 782.1 511.0 780.2 511.1C778.3 511.2 773.7 513.2 772.1 514.2C770.5 515.2 767.2 517.7 767.1 519.2C767.0 520.7 769.8 524.3 771.1 526.3C772.4 528.3 775.8 533.4 777.2 535.4C778.6 537.4 781.0 541.0 782.3 542.5C783.6 544.0 786.0 546.1 787.3 547.5C788.6 548.9 791.6 552.2 792.4 553.6C793.2 555.0 792.8 557.8 793.4 558.7C794.0 559.6 796.5 559.7 797.4 560.7C798.3 561.7 800.0 566.9 800.5 566.8C801.0 566.7 800.9 560.5 801.5 559.7C802.1 558.9 804.8 559.4 805.5 560.7C806.2 562.0 807.1 567.8 807.5 569.8C807.9 571.8 807.8 575.6 808.6 576.9C809.4 578.2 812.1 579.4 813.6 579.9C815.1 580.4 818.4 580.8 820.7 580.9C823.0 581.0 829.8 580.9 831.8 580.5C833.8 580.1 835.5 578.9 836.9 577.9C838.3 576.9 841.4 574.2 842.9 572.8C844.4 571.4 848.1 568.3 849 566.8C849.9 565.3 848.4 562.1 850 560.7C851.6 559.4 860.0 554.6 862 556C864.0 557.4 864.2 567.8 866 572C867.8 576.2 872.8 586.1 876 590C879.2 593.9 889.2 600.2 892 603C894.8 605.8 898.5 609.8 898 612C897.5 614.2 890.1 619.4 888 620.6C885.9 621.8 882.9 620.9 881.5 621.9C880.1 622.9 878.8 626.8 877.2 628.4C875.6 630.0 870.1 633.0 868.5 634.9C866.9 636.8 866.1 641.7 864.2 643.6C862.3 645.5 855.7 648.2 853.3 650.1C850.9 652.0 847.7 657.1 844.7 658.7C841.7 660.3 832.8 661.7 829.5 663.1C826.2 664.5 820.2 668.0 818.6 669.6C817.0 671.2 818.4 674.6 816.5 676.1C814.6 677.6 806.8 679.9 803.5 681.3C800.2 682.6 793.8 685.7 790.5 686.9C787.2 688.1 780.8 690.0 777.5 691.2C774.2 692.5 768.0 695.8 764.5 696.9C761.0 698.0 752.8 698.8 749.3 699.9C745.8 701.0 739.5 704.2 736.3 705.5C733.0 706.8 725.6 709.5 723.3 709.9C721.0 710.3 719.2 710.1 718.1 708.6C717.0 707.1 715.3 700.7 714.6 697.7C713.9 694.7 712.9 688.2 712.4 684.7C711.9 681.2 711.1 673.1 710.3 669.6C709.5 666.1 707.3 659.6 705.9 656.6C704.5 653.6 701.3 648.7 699.4 645.7C697.5 642.7 693.2 636.0 690.8 632.7C688.4 629.5 682.5 623.0 679.9 619.7C677.3 616.5 671.4 610.0 669.9 606.7C668.4 603.5 668.7 595.8 668.2 593.7C667.7 591.6 666.5 591.0 665.6 589.6C664.7 588.2 662.6 584.0 661.3 582.7C660.0 581.4 656.5 580.1 655.2 579.2C653.9 578.3 651.8 577.1 650.9 575.8C650.0 574.5 649.2 570.6 648.3 568.8C647.4 566.9 645.0 562.5 643.9 561C642.8 559.5 640.8 558.2 639.6 556.7C638.4 555.2 635.7 550.9 634.4 548.9C633.1 546.9 630.3 542.7 629.2 541.1C628.1 539.5 626.6 536.4 625.7 535.8C624.8 535.2 622.5 536.1 621.8 536C621.0 535.9 619.8 535.7 619.7 535.3C619.7 534.9 621.1 533.5 621.4 532.7C621.7 532.0 622.1 530.3 622.3 529.3C622.5 528.3 622.9 525.6 623.1 524.5C623.3 523.4 624.0 520.8 624 520.2C624.0 519.6 623.1 519.1 622.7 519.7C622.3 520.4 621.4 524.0 621 525.4C620.6 526.8 619.6 530.0 619.2 531C618.8 532.0 617.7 532.9 617.5 533.6C617.3 534.3 618.1 535.9 617.9 536.6C617.7 537.3 616.6 538.8 616.2 539.2C615.8 539.6 615.0 539.8 614.5 539.7C614.0 539.6 612.9 538.8 612.3 538.4C611.7 538.0 610.4 536.9 609.7 536.2C609.0 535.5 607.4 533.5 606.7 532.7C606.0 531.9 604.5 531.0 604.1 530.1C603.8 529.2 604.3 526.1 603.9 525.2C603.5 524.3 601.6 523.8 601 523.2C600.4 522.6 599.3 520.9 598.9 520.2C598.5 519.5 598.1 518.2 597.8 517.6C597.5 517.0 597.4 515.9 596.7 515.2C596.0 514.5 592.8 513.9 592 512C591.2 510.1 589.2 502.0 590 500C590.8 498.0 596.2 495.8 598 496C599.8 496.2 602.6 501.1 604 501.7ZM193.9 237.1C196.5 239.0 199.6 239.2 200.8 240.1C202.0 241.0 203.5 243.2 203.5 244.2C203.5 245.2 201.8 247.4 200.8 248.3C199.8 249.2 196.9 250.6 195.3 251.1C193.8 251.6 190.0 252.4 188.4 252.5C186.8 252.6 183.4 251.6 182.9 251.8C182.4 252.1 183.3 254.2 184.3 254.5C185.3 254.8 189.8 254.3 191.2 254.5C192.6 254.7 195.3 255.3 195.3 255.9C195.3 256.5 192.2 258.5 191.2 259.3C190.2 260.1 188.4 261.5 187.1 262.1C185.8 262.7 182.3 263.6 180.9 264.1C179.5 264.6 176.0 265.6 176.1 266.2C176.2 266.8 179.9 268.4 181.6 268.9C183.3 269.4 187.9 269.9 189.8 270.3C191.7 270.7 196.5 271.2 196.7 271.7C196.9 272.2 192.6 273.7 191.2 274.4C189.8 275.1 187.1 276.3 185.7 277.2C184.3 278.1 181.6 280.3 180.2 281.3C178.8 282.3 175.9 284.5 174.7 285.4C173.5 286.3 170.2 288.3 170.6 288.8C170.9 289.3 175.6 289.9 177.5 289.5C179.4 289.1 183.5 286.2 185.7 285.4C187.9 284.5 192.9 283.1 195.3 282.7C197.7 282.3 202.5 282.0 204.9 282C207.3 282.0 212.4 282.7 214.5 282.7C216.6 282.7 219.5 282.4 221.4 282C223.3 281.6 227.5 280.2 229.6 279.9C231.7 279.5 235.8 279.4 237.9 279.2C240.0 278.9 244.3 278.3 246.1 277.9C247.9 277.5 251.3 276.7 252.3 276.1C253.3 275.5 254.7 273.6 254.3 273.1C253.9 272.6 249.8 272.7 248.8 272.4C247.8 272.1 245.9 271.4 246.1 271C246.3 270.6 249.2 269.6 250.2 268.9C251.1 268.2 253.3 266.5 253.7 265.5C254.0 264.5 253.4 261.7 253 260.7C252.6 259.7 251.2 257.9 250.2 257.3C249.2 256.7 246.1 256.4 244.7 255.9C243.3 255.4 240.3 254.0 239.2 253.1C238.1 252.2 236.6 249.6 235.8 248.3C235.0 247.0 233.8 244.0 233.1 242.8C232.4 241.6 230.8 239.4 230.3 238.7C229.8 238.0 229.9 238.8 228.9 237.1C227.9 235.4 224.1 229.0 222 225C219.9 221.0 214.1 209.4 212 205C209.9 200.6 207.8 192.5 205 190C202.2 187.5 193.4 184.8 190 185C186.6 185.2 179.8 188.9 178 192C176.2 195.1 175.8 205.9 176 210C176.2 214.1 177.8 221.6 180 225C182.2 228.4 191.3 235.2 193.9 237.1ZM122 243.1C123.0 242.2 127.6 240.3 130.1 239.7C132.5 239.1 138.7 238.2 141.6 238C144.5 237.8 150.7 238.2 153.2 238.5C155.7 238.8 159.7 239.9 161.3 240.8C162.9 241.7 165.5 244.0 165.9 245.4C166.3 246.8 165.1 250.7 164.7 252.4C164.3 254.1 163.3 257.7 162.4 259.3C161.5 260.9 159.5 263.9 157.8 265.1C156.1 266.3 150.9 267.9 148.6 268.6C146.3 269.3 141.6 270.5 139.3 270.9C137.0 271.3 132.1 272.1 130.1 272C128.1 271.9 124.5 270.6 123.1 269.7C121.6 268.8 118.5 266.4 118.5 265.1C118.5 263.8 122.8 260.6 123.1 259.3C123.4 258.0 120.5 255.8 120.8 254.7C121.1 253.5 125.2 251.1 125.4 250.1C125.6 249.1 122.4 247.5 122 246.6C121.6 245.7 121.0 244.0 122 243.1ZM372.8 425.9C372.8 425.3 374.1 424.0 375.1 423.6C376.1 423.2 379.4 422.3 380.9 422.4C382.3 422.5 385.2 423.9 386.7 424.2C388.1 424.5 391.1 424.8 392.5 424.7C393.9 424.6 396.9 423.9 398.3 423.6C399.7 423.3 402.8 422.6 404 422.4C405.2 422.2 407.8 421.4 408.1 421.8C408.4 422.2 407.0 424.9 406.4 425.9C405.8 426.8 403.8 428.4 403.5 429.4C403.2 430.4 403.8 433.2 404 434C404.2 434.8 405.4 435.1 405.2 435.7C405.0 436.3 403.2 438.2 402.3 438.6C401.4 439.0 399.2 438.9 398.3 438.6C397.4 438.3 395.8 436.9 394.8 436.3C393.8 435.7 391.4 434.6 390.2 434C389.0 433.4 386.8 432.3 385.5 431.7C384.2 431.1 381.1 429.8 379.8 429.4C378.5 429.0 376.0 428.6 375.1 428.2C374.2 427.8 372.8 426.5 372.8 425.9ZM326 392.9C326.5 392.5 328.9 391.7 330.1 391.2C331.3 390.7 334.6 389.1 335.8 388.9C337.0 388.7 339.0 388.9 339.9 389.5C340.8 390.1 342.4 392.4 342.8 393.5C343.2 394.6 343.5 396.9 343.4 398.2C343.3 399.5 342.5 402.3 342.2 403.9C341.9 405.5 341.6 409.9 341 410.9C340.4 411.9 337.9 411.6 337 412C336.1 412.4 334.6 413.7 333.5 413.8C332.4 413.9 328.9 414.1 328.3 413.2C327.7 412.2 328.4 407.9 328.3 406.2C328.2 404.5 328.0 400.7 327.7 399.3C327.4 397.9 326.2 395.5 326 394.7C325.8 393.9 325.5 393.3 326 392.9ZM330.3 374.5C330.9 373.9 333.5 372.7 334.7 372.5C335.9 372.3 339.2 372.1 339.9 372.7C340.6 373.3 340.6 376.0 340.5 377.3C340.4 378.6 339.2 382.0 338.7 383.1C338.2 384.2 337.0 385.8 336.4 386C335.8 386.2 334.1 385.5 333.5 384.9C332.9 384.2 331.6 381.8 331.2 380.8C330.8 379.9 330.2 378.1 330.1 377.3C330.0 376.5 329.7 375.1 330.3 374.5ZM496.7 453.3C497.2 453.0 500.0 451.9 501.4 451.9C502.8 451.9 506.2 452.9 508 453.3C509.8 453.7 514.2 454.7 516 455C517.8 455.3 521.3 455.2 522.1 455.6C522.9 456.0 522.9 457.8 522.1 458C521.3 458.2 517.8 457.6 516 457.5C514.2 457.4 509.8 457.3 508 457.1C506.2 456.9 502.8 455.9 501.4 455.6C500.0 455.3 497.8 454.7 497.2 454.4C496.6 454.1 496.2 453.6 496.7 453.3ZM343.8 227.7C344.3 227.1 346.7 226.3 347.8 226.2C348.9 226.1 352.0 226.5 352.9 227C353.8 227.5 354.8 229.1 355 229.9C355.2 230.7 354.8 232.8 354.3 233.5C353.8 234.2 351.7 235.5 350.7 235.6C349.7 235.7 347.3 234.8 346.4 234.2C345.5 233.6 344.1 231.4 343.8 230.6C343.5 229.8 343.3 228.2 343.8 227.7ZM357.9 227C358.4 226.2 361.0 224.8 362.3 224.4C363.6 224.0 366.6 223.2 368 223.4C369.4 223.6 372.2 225.3 373.1 226.2C374.0 227.1 375.1 229.7 375.3 230.6C375.5 231.5 375.2 233.0 374.5 233.5C373.8 234.0 371.0 234.9 369.5 234.9C368.0 234.9 363.7 234.0 362.3 233.5C360.9 233.0 359.2 231.4 358.6 230.6C358.1 229.8 357.4 227.8 357.9 227ZM356.8 236C357.2 235.6 360.7 235.3 362.3 235.1C363.9 234.9 368.0 234.4 369.5 234.3C371.0 234.2 373.8 233.7 374.2 234C374.6 234.3 374.1 235.9 373.1 236.4C372.2 236.9 368.3 237.5 366.6 237.8C364.9 238.1 360.6 238.7 359.4 238.5C358.2 238.3 356.4 236.4 356.8 236ZM355.4 207.5L358.6 206.9L359.7 208.5L356.5 209.3ZM398 231.4C398.4 231.1 400.6 230.6 401.3 230.8C402.0 231.0 403.6 232.3 403.5 232.7C403.4 233.1 401.2 233.7 400.6 233.7C400.0 233.7 398.6 233.2 398.3 232.9C398.0 232.6 397.6 231.7 398 231.4ZM1293.2 785.7C1293.9 785.2 1298.8 787.2 1300.8 787.9C1302.8 788.6 1307.2 790.2 1309.4 791.2C1311.6 792.2 1316.2 794.3 1318.1 795.5C1320.0 796.7 1323.0 799.4 1324.6 800.9C1326.2 802.4 1329.5 805.8 1331.1 807.4C1332.7 809.0 1336.0 812.3 1337.6 813.9C1339.2 815.5 1342.2 818.9 1344.1 820.4C1346.0 821.9 1350.6 824.6 1352.8 825.8C1355.0 827.0 1359.3 829.2 1361.5 830.2C1363.7 831.2 1368.2 832.6 1370.1 833.4C1372.0 834.2 1374.5 835.8 1376.7 836.7C1378.9 837.7 1386.2 832.3 1387.5 841C1388.8 849.7 1389.1 899.4 1387.5 906C1385.9 912.6 1377.2 896.9 1374.5 894.1C1371.8 891.3 1367.7 885.9 1365.8 883.3C1363.9 880.7 1360.8 875.8 1359.3 873.5C1357.8 871.2 1355.5 867.2 1353.9 864.9C1352.3 862.6 1348.1 857.3 1346.3 855.1C1344.5 852.9 1341.4 849.5 1339.8 847.5C1338.2 845.5 1335.1 841.1 1333.3 838.8C1331.5 836.5 1327.5 831.4 1325.7 829.1C1323.9 826.8 1321.0 822.6 1319.2 820.4C1317.4 818.2 1313.4 813.6 1311.6 811.7C1309.8 809.8 1306.6 806.8 1305.1 805.2C1303.6 803.6 1300.9 800.3 1299.7 798.7C1298.5 797.1 1296.2 793.8 1295.4 792.2C1294.6 790.6 1292.5 786.2 1293.2 785.7ZM1299.7 818.2C1300.0 817.9 1303.4 818.6 1304.6 819.1C1305.8 819.6 1309.0 821.4 1309.4 822C1309.8 822.6 1308.3 823.8 1307.5 823.7C1306.7 823.6 1303.6 822.2 1302.6 821.5C1301.6 820.8 1299.5 818.5 1299.7 818.2ZM1317 831.3C1317.2 830.6 1319.8 832.1 1320.8 833.2C1321.8 834.3 1324.3 839.0 1324.6 840.4C1324.9 841.8 1323.8 844.5 1323.1 844.3C1322.4 844.1 1320.1 840.7 1319.3 839.1C1318.5 837.5 1316.8 832.0 1317 831.3ZM1329 850.8C1329.1 850.5 1330.6 851.1 1331.1 851.6C1331.6 852.1 1333.1 854.0 1333.3 854.6C1333.5 855.2 1332.8 856.3 1332.4 856.2C1332.0 856.1 1330.7 854.7 1330.3 854C1329.9 853.3 1328.9 851.1 1329 850.8ZM1333.3 861.6C1333.5 861.0 1335.7 862.2 1336.5 863.2C1337.3 864.2 1339.5 868.1 1339.8 869.2C1340.0 870.4 1339.1 872.5 1338.5 872.4C1337.9 872.3 1335.9 869.5 1335.2 868.1C1334.5 866.8 1333.1 862.2 1333.3 861.6ZM1343.1 876.8C1343.3 876.2 1346.7 877.4 1347.9 878.4C1349.1 879.4 1352.4 883.2 1352.8 884.4C1353.2 885.5 1351.8 887.7 1350.9 887.6C1350.1 887.5 1347.0 884.6 1346 883.3C1345.0 881.9 1342.9 877.4 1343.1 876.8ZM807.7 43.9C809.0 42.3 816.1 37.3 819.3 34.7C822.5 32.1 828.6 26.3 833.2 23.1C837.8 19.9 850.5 11.8 856.3 9.2C862.1 6.6 873.9 3.7 879.4 2.3C884.9 0.9 890.1 -1.7 900.2 -2.3C910.3 -2.9 955.1 -2.9 960.3 -2.3C965.5 -1.7 947.0 1.0 941.8 2.3C936.6 3.6 924.5 6.4 918.7 8.1C912.9 9.8 900.8 14.0 895.6 16.2C890.4 18.4 881.4 23.1 877.1 25.4C872.8 27.7 864.1 32.5 860.9 34.7C857.7 36.9 852.0 40.9 851.7 42.8C851.4 44.7 856.6 48.1 858.6 49.7C860.6 51.3 865.9 54.5 867.9 55.5C869.9 56.5 875.7 57.5 874.8 57.8C873.9 58.1 864.4 57.8 860.9 57.8C857.4 57.8 850.3 57.9 847.1 57.8C843.9 57.6 838.1 57.3 835.5 56.6C832.9 55.9 828.5 52.9 826.2 52C823.9 51.1 819.2 50.3 817 49.7C814.8 49.1 810.1 48.1 808.9 47.4C807.7 46.7 806.4 45.5 807.7 43.9ZM885.2 62C885.5 61.3 891.1 59.9 893.3 60.1C895.5 60.3 900.6 62.7 902.5 63.6C904.4 64.5 908.6 66.9 908.3 67.5C908.0 68.1 902.4 68.4 900.2 68.2C898.0 68.0 892.9 66.7 891 65.9C889.1 65.1 884.9 62.7 885.2 62ZM1013.5 28.9C1014.4 28.4 1020.6 26.8 1022.8 26.6C1025.0 26.5 1030.6 27.2 1030.9 27.7C1031.2 28.2 1027.0 30.1 1025.1 30.5C1023.2 30.9 1017.2 31.0 1015.8 30.8C1014.3 30.6 1012.6 29.4 1013.5 28.9ZM771 75.5C771.0 74.7 772.6 72.7 774.1 72.1C775.6 71.5 780.6 70.5 782.8 70.5C785.0 70.5 790.0 71.5 791.5 72.1C793.0 72.7 794.6 74.4 794.6 75.2C794.6 76.0 793.0 77.9 791.5 78.5C790.0 79.1 785.0 79.9 782.8 79.9C780.6 79.9 775.6 79.3 774.1 78.8C772.6 78.2 771.0 76.3 771 75.5ZM560 58.7C560.9 58.0 565.1 57.6 566.9 57.7C568.7 57.9 573.7 59.4 574.7 59.9C575.8 60.4 576.0 61.3 575.3 61.7C574.5 62.1 570.6 63.2 568.7 63.4C566.8 63.6 561.1 64.0 560 63.4C558.9 62.8 559.1 59.4 560 58.7ZM828.2 709C828.8 708.5 833.1 707.3 834.7 707.3C836.3 707.3 840.8 708.5 841.2 709C841.6 709.5 839.6 711.3 838.2 711.6C836.8 711.9 831.5 711.9 830.3 711.6C829.0 711.3 827.7 709.5 828.2 709ZM32.9 528.7L34.7 527.5L36.4 528.7L34.7 529.9ZM31.2 539.1L32.9 537.9L34.7 539.1L32.9 540.3ZM40.3 534.3L42.1 533.1L43.8 534.3L42.1 535.5ZM48.1 533L50.7 531.2L53.3 533L50.7 534.8ZM57.2 537.3L59.8 535.5L62.4 537.3L59.8 539.2ZM73.7 533L77.2 530.6L80.6 533L77.2 535.4ZM79.8 525.2L82.4 523.4L85 525.2L82.4 527ZM42 482.4C42.4 482.1 45.1 481.9 46 482C46.9 482.1 49.0 482.7 49 483C49.0 483.3 46.8 484.1 46 484.2C45.2 484.3 43.5 484.2 43 484C42.5 483.8 41.6 482.6 42 482.4ZM714.5 980.2L716.2 978.8L717.9 980.2L716.2 981.6ZM719.7 988.9L721.4 987.5L723.1 988.9L721.4 990.3ZM727.5 988L729.2 986.6L730.9 988L729.2 989.4ZM735.3 993.2L737 991.8L738.7 993.2L737 994.6ZM849.7 1087.3L852.7 1084.9L855.8 1087.3L852.7 1089.7ZM872.3 1077.7L875.3 1075.3L878.3 1077.7L875.3 1080.2Z" fill="#e6e6e6" stroke="#e6e6e6" stroke-width="0.6" stroke-linejoin="round"/>
<path d="M560.1 900C560.5 898.9 564.2 898.4 565.3 900C566.4 901.6 568.5 910.3 568.8 913C569.1 915.7 567.2 919.8 567.9 921.7C568.5 923.6 572.8 926.0 574 928.2C575.2 930.4 576.6 936.7 577.5 939C578.4 941.3 580.9 945.8 580.9 946.8C580.9 947.8 578.7 948.0 577.5 946.8C576.3 945.5 572.5 939.1 571 936.8C569.5 934.5 566.2 930.6 565.3 928.2C564.4 925.8 564.0 919.7 563.6 917.3C563.2 914.9 562.2 910.9 561.8 908.7C561.4 906.5 559.7 901.1 560.1 900ZM615.6 961.6C615.9 960.8 618.0 961.1 618.6 962.9C619.2 964.7 620.1 973.5 620.8 975.9C621.5 978.3 624.2 980.5 624.3 982.4C624.4 984.3 621.9 988.4 621.7 991C621.5 993.6 623.2 1001.7 623 1003.2C622.8 1004.7 620.4 1004.5 619.9 1003.2C619.4 1002.0 619.1 995.3 618.6 993.2C618.1 991.1 615.6 988.3 615.6 986.7C615.6 985.1 618.5 982.4 618.6 980.2C618.7 978.0 616.9 971.7 616.5 969.4C616.1 967.1 615.3 962.4 615.6 961.6ZM550.6 953.8C550.9 953.0 553.9 950.7 554.9 950.3C555.9 949.9 558.4 949.8 558.4 950.3C558.4 950.8 555.7 953.8 554.9 954.6C554.1 955.4 552.8 956.5 552.3 956.4C551.8 956.3 550.3 954.6 550.6 953.8ZM549.3 1037.9C549.5 1037.5 551.7 1036.7 552.7 1036.6C553.7 1036.5 556.6 1037.0 557.1 1037.4C557.6 1037.8 557.3 1039.3 556.6 1039.6C555.9 1039.9 552.3 1040.2 551.4 1040C550.5 1039.8 549.1 1038.3 549.3 1037.9ZM385 695.6C385.4 695.5 388.0 700.2 390.2 701.2C392.4 702.2 400.7 702.8 402.3 703.4C403.9 704.0 403.9 705.8 403.2 706.4C402.5 707.0 397.9 707.9 396.7 708.6C395.5 709.3 394.4 712.4 393.6 712.1C392.8 711.8 391.1 707.6 390.2 706.4C389.3 705.1 387.3 703.5 386.7 702.1C386.1 700.8 384.6 695.7 385 695.6ZM593.2 853.8C594.7 852.5 601.3 850.6 604 850.3C606.7 850.0 613.4 850.4 614.9 851.6C616.4 852.9 616.8 857.8 616.2 860.3C615.7 862.8 611.8 869.0 610.5 871.2C609.2 873.4 608.4 876.6 606.2 877.7C604.0 878.8 595.2 880.6 593.2 879.8C591.2 879.0 590.4 873.6 590.2 871.2C590.0 868.8 591.5 862.5 591.9 860.3C592.3 858.1 591.7 855.0 593.2 853.8ZM636.6 804L638.7 804L642.2 823.5L640 823.5ZM560.7 895C561.0 894.7 562.6 899.4 563.3 901.5C563.9 903.6 565.9 910.6 565.9 911.9C565.9 913.2 563.9 912.9 563.3 911.9C562.7 910.9 561.4 905.8 561.1 903.7C560.8 901.6 560.4 895.3 560.7 895ZM530.3 522C530.3 521.0 531.2 518.0 532.1 516.8C533.0 515.6 535.7 513.3 537.3 512.5C538.9 511.7 542.8 511.0 545.1 510.7C547.4 510.4 554.0 510.1 555.5 510.2C557.0 510.3 557.9 511.1 557.2 511.6C556.6 512.1 551.6 513.3 550.3 514.2C549.0 515.1 547.7 517.5 546.8 518.6C545.9 519.7 544.6 522.1 543.4 522.9C542.2 523.7 538.7 524.9 537.3 525.1C535.9 525.3 533.0 525.0 532.1 524.6C531.2 524.2 530.3 523.0 530.3 522ZM300.6 462.1C301.0 461.1 303.7 461.2 305 461.6C306.3 462.0 310.3 464.0 310.8 465C311.3 466.0 310.4 468.8 309.3 469.4C308.2 470.0 303.2 470.8 302.1 469.9C301.0 469.0 300.2 463.1 300.6 462.1ZM318 467.6L325.2 467.9L325.2 469.7L318 469.4ZM466.8 511.3L471.2 509.8L472 515.6L468.3 517.1ZM543.1 371.2C543.8 368.7 547.3 362.7 548.9 359.6C550.5 356.5 553.9 349.3 556.1 346.6C558.3 343.9 563.7 340.1 566.2 337.9C568.7 335.7 573.7 330.5 576.4 329.2C579.1 327.9 585.6 327.4 587.9 327.8C590.2 328.2 592.8 331.1 595.1 332.1C597.5 333.1 604.9 334.8 606.7 335.9C608.5 337.0 608.5 339.6 609.6 340.8C610.7 342.0 613.8 344.9 615.4 345.7C617.0 346.5 620.4 347.5 622.6 347.5C624.8 347.5 630.4 345.9 632.7 345.7C635.1 345.5 638.5 345.2 641.4 345.7C644.3 346.2 652.2 348.1 655.8 349.5C659.4 350.9 667.0 354.9 670.3 356.7C673.5 358.5 679.3 362.3 681.8 363.9C684.3 365.5 688.6 368.1 690.5 369.7C692.4 371.3 695.7 374.6 696.9 376.4C698.1 378.2 700.2 382.7 699.8 384.2C699.4 385.7 697.8 388.1 693.4 388.5C689.0 388.9 671.0 387.5 664.5 387.1C658.0 386.7 646.8 386.1 641.4 385.6C636.0 385.1 625.5 384.0 621.2 383.3C616.9 382.6 610.3 380.1 606.7 379.8C603.1 379.6 595.9 380.6 592.3 381.3C588.7 382.0 581.8 385.1 577.8 385.6C573.8 386.1 564.1 385.6 560.5 385.6C556.9 385.6 551.0 386.3 548.9 385.6C546.8 384.9 544.4 381.6 543.7 379.8C543.0 378.0 542.5 373.7 543.1 371.2ZM622.6 335C623.3 333.6 627.1 330.5 629.8 329.2C632.5 327.9 640.7 325.7 644.3 324.9C647.9 324.1 655.5 323.0 658.7 322.6C662.0 322.2 669.6 320.9 670.3 321.4C671.0 321.9 666.3 325.1 664.5 326.4C662.7 327.7 657.6 330.5 655.8 332.1C654.0 333.7 651.9 338.1 650.1 339.4C648.3 340.7 643.8 341.9 641.4 342.3C639.0 342.7 633.5 342.5 631.3 342.3C629.1 342.1 625.1 341.7 624 340.8C622.9 339.9 621.9 336.4 622.6 335ZM465.8 420.6C466.4 420.2 470.0 419.4 471.4 419.3C472.8 419.2 475.6 419.8 477 420C478.4 420.2 481.6 420.9 482.2 421.2C482.8 421.5 482.8 422.2 482.2 422.3C481.6 422.4 478.4 421.8 477 421.7C475.6 421.6 472.7 421.1 471.4 421.2C470.1 421.3 467.6 422.6 466.9 422.5C466.2 422.4 465.2 421.0 465.8 420.6ZM736.8 333.6C736.4 331.8 737.9 330.0 739.7 327.8C741.5 325.6 748.9 318.7 751.2 316.2C753.5 313.7 757.3 309.0 758.4 307.6C759.5 306.2 758.7 306.2 760 305.4C761.3 304.6 766.5 301.3 768.7 301.1C770.9 300.9 774.8 304.0 777.3 304C779.8 304.0 785.8 301.7 788.9 301.1C792.0 300.5 799.5 299.8 801.9 298.9C804.2 298.0 805.7 294.1 807.7 293.8C809.7 293.5 816.4 295.2 817.8 296.7C819.2 298.2 817.9 304.5 819.2 306.1C820.5 307.7 826.1 309.0 827.9 309.7C829.7 310.4 832.4 310.9 833.7 311.9C835.0 312.9 836.7 315.9 838 317.7C839.3 319.5 842.5 324.6 843.8 326.4C845.1 328.2 847.2 331.1 848.2 332.1C849.2 333.1 851.5 333.2 851.8 334.3C852.1 335.4 851.3 339.5 850.3 340.8C849.3 342.1 845.7 343.8 843.8 344.4C841.9 345.0 836.7 345.3 835.1 345.9C833.5 346.4 831.7 348.0 830.8 348.8C829.9 349.6 828.6 351.5 827.9 352.4C827.2 353.3 825.9 355.9 825 356C824.1 356.1 822.1 353.7 820.7 353.1C819.3 352.5 815.1 351.1 813.5 350.9C811.9 350.7 809.3 351.6 807.7 351.6C806.1 351.6 802.1 351.0 800.5 350.9C798.9 350.8 795.3 350.5 794.7 350.9C794.1 351.3 794.5 353.1 795.4 353.8C796.3 354.5 800.4 355.6 801.9 356.7C803.4 357.8 806.4 361.1 807.7 362.5C809.0 363.9 810.6 367.4 812 368.3C813.4 369.2 817.9 369.2 819.2 369.7C820.5 370.2 822.0 371.7 822.1 372.6C822.2 373.5 820.5 375.8 820 376.9C819.5 378.0 817.3 380.8 817.8 381.3C818.2 381.9 822.1 381.7 823.6 381.3C825.1 380.9 828.0 378.7 829.4 378.4C830.8 378.1 834.0 378.2 835.1 379.1C836.2 380.0 836.8 384.2 838 385.6C839.2 387.0 844.0 389.0 844.5 389.9C845.0 390.8 843.6 392.2 842.4 392.8C841.2 393.4 836.9 394.1 835.1 394.3C833.3 394.5 829.3 393.9 827.9 394.3C826.5 394.7 824.2 396.5 823.6 397.2C823.0 397.9 822.4 399.5 822.9 400.1C823.4 400.7 826.4 401.9 827.9 402.2C829.4 402.5 833.7 402.1 835.1 402.9C836.5 403.7 837.3 408.2 838.8 408.7C840.2 409.2 844.9 407.1 846.7 406.6C848.5 406.2 853.9 404.7 853.2 405.1C852.5 405.5 843.2 408.5 840.9 409.5C838.6 410.5 835.9 411.8 835.1 413.1C834.3 414.5 834.4 418.3 834.4 420.3C834.4 422.3 834.6 427.0 835.1 429C835.6 431.0 838.4 435.0 838 436.2C837.6 437.4 834.5 437.9 832.3 438.4C830.1 438.9 823.6 440.3 820.7 440.5C817.8 440.7 811.6 440.2 809.1 439.8C806.6 439.4 802.7 438.2 800.5 437.6C798.3 437.0 793.6 435.0 791.8 434.7C790.0 434.4 786.7 437.8 786 435C785.3 432.2 785.3 416.0 786 412C786.7 408.0 792.1 405.5 791.7 402.9C791.3 400.3 785.2 394.1 783 391.4C780.8 388.7 776.5 383.8 774.3 381.3C772.1 378.8 767.9 373.6 765.7 371.2C763.5 368.8 759.2 364.7 757 362.5C754.8 360.3 750.1 356.3 748.3 353.8C746.5 351.3 743.9 344.8 742.5 342.3C741.1 339.8 737.1 335.4 736.8 333.6ZM884.3 348C884.1 346.1 886.1 340.8 887.2 339.4C888.3 338.0 891.5 337.9 892.9 337.2C894.3 336.5 897.1 334.6 898.7 333.6C900.3 332.6 904.2 329.9 906 329.2C907.8 328.5 911.4 327.6 913.2 327.8C915.0 328.0 920.2 330.0 920.4 330.7C920.6 331.4 915.4 332.5 914.6 333.6C913.8 334.7 913.4 338.0 913.9 339.4C914.4 340.8 918.7 343.8 919 345.1C919.3 346.4 917.2 348.2 916.1 349.5C915.0 350.8 911.8 354.2 910.3 355.3C908.8 356.4 906.3 358.0 904.5 358.2C902.7 358.4 897.8 357.2 895.8 356.7C893.8 356.2 890.0 355.6 888.6 354.5C887.2 353.4 884.5 349.9 884.3 348ZM870.5 380.5C870.8 379.6 873.3 376.2 874.2 376.2C875.1 376.2 877.6 379.5 877.8 380.5C878.0 381.5 876.3 383.8 875.6 384.2C874.9 384.6 872.6 383.9 872 383.4C871.4 382.9 870.2 381.4 870.5 380.5ZM1057 340C1057.4 338.4 1060.8 331.6 1064.5 330C1068.2 328.4 1080.4 328.0 1087 327.5C1093.6 327.0 1109.8 325.7 1117 326C1124.2 326.3 1140.8 329.0 1144.5 330C1148.2 331.0 1149.8 333.9 1147 334C1144.2 334.1 1128.9 331.2 1122 331C1115.1 330.8 1098.2 331.9 1092 332.5C1085.8 333.1 1075.9 334.8 1072 336C1068.1 337.2 1062.9 342.0 1061 342.5C1059.1 343.0 1056.6 341.6 1057 340ZM1002 286L1008 283.5L1014.5 285L1008 288ZM754.6 504.9C754.1 504.1 757.0 500.8 758.5 499.7C760.0 498.6 765.2 496.3 766.3 496.5C767.4 496.7 768.1 499.8 767.6 501C767.1 502.2 764.0 505.7 762.4 506.2C760.8 506.7 755.1 505.7 754.6 504.9Z" fill="#ffffff"/>
<path d="M892.2 338.6C892.7 337.5 895.2 337.1 895.8 337.9C896.3 338.7 896.8 343.5 896.6 345.1C896.4 346.7 895.1 349.8 894.4 350.9C893.7 352.0 891.2 354.3 890.8 353.8C890.4 353.3 891.3 348.5 891.5 346.6C891.7 344.7 891.7 339.7 892.2 338.6Z" fill="#e6e6e6"/>
</svg>
<div class="fade" id="fr"></div><div class="fade" id="ft"></div><div class="fade" id="fl"></div><div class="fade" id="ftl"></div>
<div class="ring" style="left:173.5px;top:211.2px"></div>
<div class="ring" style="left:195.5px;top:257.6px"></div>
<div class="ring" style="left:259.5px;top:231.3px"></div>
<div class="ring" style="left:325.5px;top:177.3px"></div>
<div class="ring" style="left:445.5px;top:377.5px"></div>
<div class="ring" style="left:777.5px;top:533.5px"></div>
<div class="ring" style="left:1323.5px;top:767.5px"></div>
<div class="dot" style="left:210.0px;top:247.7px"></div>
<div class="dot" style="left:232.0px;top:294.1px"></div>
<div class="dot" style="left:296.0px;top:267.8px"></div>
<div class="dot" style="left:362.0px;top:213.8px"></div>
<div class="dot" style="left:482.0px;top:414.0px"></div>
<div class="dot" style="left:814.0px;top:570.0px"></div>
<div class="dot" style="left:1360.0px;top:804.0px"></div>
<div class="card" style="left:48px;top:140px;width:242px"><span class="t" style="left:31.48px;top:22.90px;transform:scale(1.0603,1.0000)">LONDON</span><span class="s" style="left:30.73px;top:57.07px;transform:scale(1.0369,0.9550)">UNITED KINGDOM</span></div>
<div class="card" style="left:396px;top:116px;width:296px"><span class="t" style="left:33.84px;top:22.90px;transform:scale(1.0599,1.0000)">COPENHAGEN</span><span class="s" style="left:33.01px;top:57.07px;transform:scale(0.9958,0.9550)">DENMARK</span></div>
<div class="card" style="left:322px;top:274.4px;width:222px"><span class="t" style="left:26.97px;top:22.90px;transform:scale(1.0654,1.0000)">HAMBURG</span><span class="s" style="left:27.83px;top:57.07px;transform:scale(0.9711,0.9550)">GERMANY</span></div>
<div class="card" style="left:48px;top:330px;width:266px"><span class="t" style="left:31.19px;top:22.90px;transform:scale(1.0537,1.0000)">ROTTERDAM</span><span class="s" style="left:30.53px;top:57.07px;transform:scale(0.9845,0.9550)">NETHERLANDS</span></div>
<div class="card" style="left:516px;top:386px;width:276px"><span class="t" style="left:32.42px;top:22.90px;transform:scale(1.0844,1.0000)">ATHENS (HQ)</span><span class="s" style="left:32.54px;top:57.07px;transform:scale(0.9568,0.9550)">GREECE</span></div>
<div class="card" style="left:850px;top:520.2px;width:156px"><span class="t" style="left:32.22px;top:22.90px;transform:scale(1.0875,1.0000)">Dubai</span><span class="s" style="left:31.98px;top:57.06px;transform:scale(0.9104,0.9550)">U.A.E</span></div>
<div class="card" style="left:1122px;top:686px;width:256px"><span class="t" style="left:29.82px;top:36.00px;transform:scale(1.0843,1.0000)">SINGAPORE</span></div>
</div></body></html>
